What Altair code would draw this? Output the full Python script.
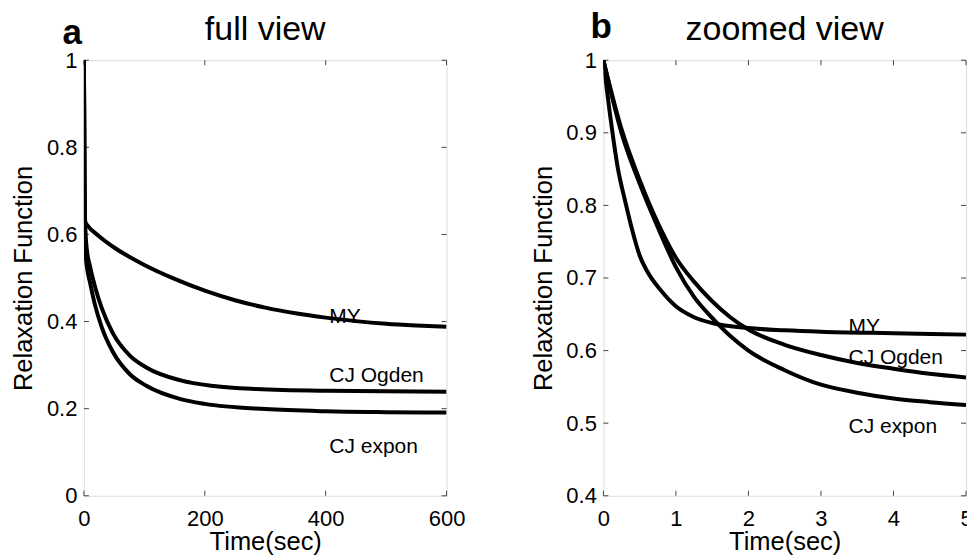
import altair as alt
import pandas as pd

# ---------------- data ----------------
# Panel a: full view (0..600 s)
full_my_t = [0, 1, 2, 3, 5, 25, 50, 100, 150, 200, 250, 300, 350, 400, 450, 500, 550, 600]
full_my_v = [1.0, 0.66, 0.631, 0.626, 0.622, 0.596, 0.570, 0.530, 0.498, 0.471, 0.449,
             0.432, 0.419, 0.409, 0.401, 0.395, 0.391, 0.388]
full_ogden_t = [0, 1, 2, 3, 5, 10, 20, 30, 48, 76, 104, 160, 215, 285, 400, 600]
full_ogden_v = [1.0, 0.728, 0.629, 0.595, 0.563, 0.527, 0.472, 0.429, 0.373, 0.322, 0.294,
                0.265, 0.252, 0.245, 0.241, 0.239]
full_expon_t = [0, 1, 2, 3, 5, 10, 18, 30, 48, 76, 104, 160, 200, 300, 400, 500, 600]
full_expon_v = [1.0, 0.715, 0.60, 0.553, 0.525, 0.49, 0.44, 0.385, 0.33, 0.279, 0.252,
                0.222, 0.211, 0.199, 0.194, 0.192, 0.191]

# Panel b: zoomed view (0..5 s)
zoom_my_t = [0, 0.1, 0.2, 0.3, 0.4, 0.5, 0.6, 0.8, 1.0, 1.25, 1.5, 2.0, 2.5, 3.0, 4.0, 5.0]
zoom_my_v = [1.0, 0.919, 0.851, 0.806, 0.765, 0.731, 0.710, 0.682, 0.661, 0.646, 0.638,
             0.631, 0.628, 0.626, 0.624, 0.622]
zoom_cj_t = [0, 0.25, 0.5, 0.75, 1.0, 1.25, 1.5, 1.75, 2.0, 2.5, 3.0, 3.5, 4.0, 4.5, 5.0]
zoom_ogden_v = [1.0, 0.905, 0.835, 0.776, 0.728, 0.695, 0.668, 0.646, 0.629, 0.608, 0.594,
                0.583, 0.575, 0.568, 0.563]
zoom_expon_v = [1.0, 0.900, 0.830, 0.770, 0.715, 0.674, 0.645, 0.620, 0.600, 0.573, 0.553,
                0.542, 0.534, 0.529, 0.525]

series_names = ["MY", "CJ Ogden", "CJ expon"]

# axis ticks
full_xticks = [0, 200, 400, 600]
full_yticks = [0, 0.2, 0.4, 0.6, 0.8, 1]
zoom_xticks = [0, 1, 2, 3, 4, 5]
zoom_yticks = [0.4, 0.5, 0.6, 0.7, 0.8, 0.9, 1]

# in-plot curve labels (data coordinates of label start / baseline)
full_label_t = [406, 406, 406]
full_label_v = [0.3975, 0.2603, 0.0993]
zoom_label_t = [3.38, 3.38, 3.38]
zoom_label_v = [0.6247, 0.5812, 0.4871]

FONT = "Liberation Sans"
W, H = 363, 436
TICK_COLOR = "#444444"


def long_df(ts, vs):
    rows = []
    for name, t, v in zip(series_names, ts, vs):
        for ti, vi in zip(t, v):
            rows.append({"series": name, "t": ti, "v": vi})
    return pd.DataFrame(rows)


def panel(curves, xdom, ydom, xticks, yticks, lab_t, lab_v, letter, letter_dx,
          letter_align, letter_y, title_text):
    x_enc = alt.X(
        "t:Q",
        scale=alt.Scale(domain=xdom, nice=False, zero=False),
        axis=alt.Axis(values=xticks, labelExpr="'' + datum.value", ticks=False,
                      domain=False, grid=False,
                      labelFontSize=22, labelFont=FONT, labelColor="black",
                      labelPadding=13, labelFlush=False, labelOverlap=False,
                      title="Time(sec)", titleFont=FONT, titleFontSize=25.5,
                      titleFontWeight="normal", titleColor="black",
                      titleY=54, titleBaseline="alphabetic"),
    )
    y_enc = alt.Y(
        "v:Q",
        scale=alt.Scale(domain=ydom, nice=False, zero=False),
        axis=alt.Axis(values=yticks, labelExpr="'' + datum.value", ticks=False,
                      domain=False, grid=False,
                      labelFontSize=22, labelFont=FONT, labelColor="black",
                      labelPadding=7, labelFlush=False, labelOverlap=False,
                      title="Relaxation Function", titleFont=FONT, titleFontSize=25.5,
                      titleFontWeight="normal", titleColor="black",
                      titleAngle=270, titleX=-52, titleY=H / 2,
                      titleAlign="center", titleBaseline="alphabetic"),
    )

    lines = alt.Chart(curves).mark_line(
        color="black", strokeWidth=4, interpolate="monotone", clip=True
    ).encode(x=x_enc, y=y_enc, detail="series:N")

    xt = pd.DataFrame({"t": xticks})
    yt = pd.DataFrame({"v": yticks})
    tick_bottom = alt.Chart(xt).mark_rule(color=TICK_COLOR, strokeWidth=1).encode(
        x=x_enc, y=alt.value(H - 5), y2=alt.value(H))
    tick_top = alt.Chart(xt).mark_rule(color=TICK_COLOR, strokeWidth=1).encode(
        x=x_enc, y=alt.value(0), y2=alt.value(5))
    tick_left = alt.Chart(yt).mark_rule(color=TICK_COLOR, strokeWidth=1).encode(
        y=y_enc, x=alt.value(0), x2=alt.value(5))
    tick_right = alt.Chart(yt).mark_rule(color=TICK_COLOR, strokeWidth=1).encode(
        y=y_enc, x=alt.value(W - 5), x2=alt.value(W))

    labels_df = pd.DataFrame({"name": series_names, "t": lab_t, "v": lab_v})
    labels = alt.Chart(labels_df).mark_text(
        align="left", baseline="alphabetic", font=FONT, fontSize=21, color="black"
    ).encode(x=x_enc, y=y_enc, text="name:N")

    one = pd.DataFrame({"k": [0]})
    title = alt.Chart(one).mark_text(
        align="center", baseline="alphabetic", font=FONT, fontSize=34, color="black"
    ).encode(x=alt.value(W / 2), y=alt.value(-20), text=alt.value(title_text))
    letter_mark = alt.Chart(one).mark_text(
        align=letter_align, baseline="alphabetic", font=FONT, fontSize=35,
        fontWeight="bold", color="black"
    ).encode(x=alt.value(letter_dx), y=alt.value(letter_y), text=alt.value(letter))

    return alt.layer(tick_bottom, tick_top, tick_left, tick_right, lines, labels,
                     title, letter_mark).properties(width=W, height=H)


full_df = long_df([full_my_t, full_ogden_t, full_expon_t],
                  [full_my_v, full_ogden_v, full_expon_v])
zoom_df = long_df([zoom_my_t, zoom_cj_t, zoom_cj_t],
                  [zoom_my_v, zoom_ogden_v, zoom_expon_v])

pa = panel(full_df, [0, 600], [0, 1], full_xticks, full_yticks,
           full_label_t, full_label_v, "a", -2, "right", -16, "full view")
pb = panel(zoom_df, [0, 5], [0.4, 1], zoom_xticks, zoom_yticks,
           zoom_label_t, zoom_label_v, "b", -13, "left", -22, "zoomed view")

chart = alt.hconcat(pa, pb, spacing=157, bounds="flush").properties(
    padding={"left": 3, "top": 1, "right": -6, "bottom": 1}
).configure_view(stroke="#444444", strokeWidth=1).configure(background="white")

chart.save("out.html", embed_options={"renderer": "svg", "actions": False})
